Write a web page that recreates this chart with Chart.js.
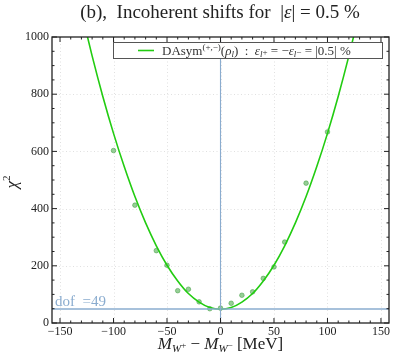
<!DOCTYPE html>
<html>
<head>
<meta charset="utf-8">
<script src="https://cdn.jsdelivr.net/npm/chart.js@4"></script>
<style>
  html, body { margin: 0; padding: 0; background: #fff; }
  canvas { display: block; }
</style>
</head>
<body>
<canvas id="chi2Chart" width="405" height="360"></canvas>
<script>
// ---- data ----
const shiftX   = [-100, -80, -60, -50, -40, -30, -20, -10, 0, 10, 20, 30, 40, 50, 60, 80, 100];
const chi2Vals = [603, 412, 253, 202, 113, 118, 74, 50, 52, 69, 97, 109, 156, 196, 283, 489, 668];

// fitted curve
const fitX = [-130, -120, -110, -100, -90, -80, -70, -60, -50, -40, -30, -20, -10, 0, 10, 20, 30, 40, 50, 60, 70, 80, 90, 100, 110, 120, 130];
const fitY = [1088, 934, 792, 663, 547, 442, 350, 270, 202, 147, 103, 73, 54, 48, 54, 73, 103, 147, 202, 270, 350, 442, 547, 663, 792, 934, 1088];

const dof = 49;
const xTicks = [-150, -100, -50, 0, 50, 100, 150];
const yTicks = [0, 200, 400, 600, 800, 1000];

const serif  = '"Liberation Serif", "DejaVu Serif", serif';
const green  = '#22cc11';
const dotGrn = 'rgba(80,175,80,0.6)';
const steel  = '#8aaccf';
const ink    = '#222';

function pairs(xs, ys) { return xs.map((x, i) => ({ x: x, y: ys[i] })); }
function fmt(v) { return v < 0 ? '\u2212' + Math.abs(v) : String(v); }

// draw a run of text pieces (sub/superscripts) left to right
function rich(ctx, x, y, segs, align) {
  let w = 0;
  segs.forEach(s => { ctx.font = s.f; w += ctx.measureText(s.t).width; });
  let cx = align === 'center' ? x - w / 2 : x;
  segs.forEach(s => {
    ctx.font = s.f;
    ctx.fillText(s.t, cx, y + (s.dy || 0));
    cx += ctx.measureText(s.t).width;
  });
  return w;
}

const decor = {
  id: 'decor',
  beforeDatasetsDraw(chart) {
    const { ctx, chartArea: a, scales: { x, y } } = chart;
    ctx.save();
    ctx.strokeStyle = '#d8d8d8';
    ctx.lineWidth = 0.8;
    ctx.setLineDash([1, 2.5]);
    xTicks.forEach(v => {
      const px = Math.round(x.getPixelForValue(v)) + 0.5;
      ctx.beginPath(); ctx.moveTo(px, a.top); ctx.lineTo(px, a.bottom); ctx.stroke();
    });
    yTicks.slice(1, -1).forEach(v => {
      const py = Math.round(y.getPixelForValue(v)) + 0.5;
      ctx.beginPath(); ctx.moveTo(a.left, py); ctx.lineTo(a.right, py); ctx.stroke();
    });
    ctx.restore();
  },
  afterDatasetsDraw(chart) {
    const { ctx, chartArea: a, scales: { x, y } } = chart;
    ctx.save();
    // frame
    ctx.strokeStyle = ink;
    ctx.lineWidth = 1.3;
    ctx.strokeRect(a.left, a.top, a.right - a.left, a.bottom - a.top);
    // inward ticks, all four sides
    ctx.lineWidth = 1;
    for (let v = -150; v <= 150; v += 10) {
      const px = x.getPixelForValue(v);
      const len = v % 50 === 0 ? 5 : 2.5;
      ctx.beginPath();
      ctx.moveTo(px, a.bottom); ctx.lineTo(px, a.bottom - len);
      ctx.moveTo(px, a.top); ctx.lineTo(px, a.top + len);
      ctx.stroke();
    }
    for (let v = 0; v <= 1000; v += 50) {
      const py = y.getPixelForValue(v);
      const len = v % 200 === 0 ? 5 : 2.5;
      ctx.beginPath();
      ctx.moveTo(a.left, py); ctx.lineTo(a.left + len, py);
      ctx.moveTo(a.right, py); ctx.lineTo(a.right - len, py);
      ctx.stroke();
    }
    // dof label
    ctx.fillStyle = steel;
    ctx.textBaseline = 'alphabetic';
    rich(ctx, a.left + 3, y.getPixelForValue(dof) - 3, [
      { t: 'dof  =49', f: '15px ' + serif }
    ]);
    // legend box
    const bx = 113, by = 42, bw = 269, bh = 16;
    ctx.fillStyle = '#fff';
    ctx.fillRect(bx, by, bw, bh);
    ctx.strokeStyle = '#555';
    ctx.lineWidth = 1;
    ctx.strokeRect(bx + 0.5, by + 0.5, bw, bh);
    ctx.strokeStyle = green;
    ctx.lineWidth = 1.6;
    ctx.beginPath(); ctx.moveTo(138, 50.5); ctx.lineTo(154, 50.5); ctx.stroke();
    ctx.fillStyle = '#333';
    const f = '13px ' + serif, fi = 'italic 13px ' + serif, fs = '9px ' + serif, fsi = 'italic 9px ' + serif;
    rich(ctx, 162, 55, [
      { t: 'DAsym', f: f },
      { t: '(+,\u2212)', f: fs, dy: -5 },
      { t: '(', f: f }, { t: '\u03c1', f: fi }, { t: 'l', f: fsi, dy: 2 }, { t: ')  :  ', f: f },
      { t: '\u03b5', f: fi }, { t: 'l', f: fsi, dy: 2 }, { t: '+', f: fs, dy: 0 },
      { t: ' = \u2212', f: f },
      { t: '\u03b5', f: fi }, { t: 'l', f: fsi, dy: 2 }, { t: '\u2212', f: fs, dy: 0 },
      { t: ' = |0.5| %', f: f }
    ]);
    ctx.restore();
  },
  afterDraw(chart) {
    const { ctx, chartArea: a } = chart;
    ctx.save();
    ctx.fillStyle = ink;
    ctx.textBaseline = 'alphabetic';
    // title
    rich(ctx, 220, 18, [
      { t: '(b),  Incoherent shifts for  |', f: '19px ' + serif },
      { t: '\u03b5', f: 'italic 19px ' + serif },
      { t: '| = 0.5 %', f: '19px ' + serif }
    ], 'center');
    // x axis title
    const F = '17px ' + serif, FI = 'italic 17px ' + serif, S = 'italic 11px ' + serif, S2 = '9px ' + serif;
    rich(ctx, (a.left + a.right) / 2, 349, [
      { t: 'M', f: FI }, { t: 'W', f: S, dy: 3 }, { t: '+', f: S2, dy: -1 },
      { t: ' \u2212 ', f: F },
      { t: 'M', f: FI }, { t: 'W', f: S, dy: 3 }, { t: '\u2212', f: S2, dy: -1 },
      { t: ' [MeV]', f: F }
    ], 'center');
    // y axis title
    ctx.translate(17, (a.top + a.bottom) / 2 + 2);
    ctx.rotate(-Math.PI / 2);
    rich(ctx, 0, 0, [
      { t: '\u03c7', f: 'italic 17px ' + serif },
      { t: '2', f: '11px ' + serif, dy: -7 }
    ], 'center');
    ctx.restore();
  }
};

new Chart(document.getElementById('chi2Chart'), {
  type: 'scatter',
  data: {
    datasets: [
      {
        label: 'dof',
        type: 'line',
        data: [{ x: -157.5, y: dof }, { x: 157.5, y: dof }],
        borderColor: steel, borderWidth: 1.5, pointRadius: 0
      },
      {
        label: 'zero',
        type: 'line',
        data: [{ x: 0, y: 0 }, { x: 0, y: 1000 }],
        borderColor: steel, borderWidth: 1.1, pointRadius: 0
      },
      {
        label: 'fit',
        type: 'line',
        data: pairs(fitX, fitY),
        borderColor: green, borderWidth: 1.6, pointRadius: 0,
        cubicInterpolationMode: 'monotone'
      },
      {
        label: 'points',
        data: pairs(shiftX, chi2Vals),
        backgroundColor: dotGrn, borderColor: 'rgba(70,160,70,0.7)',
        borderWidth: 0.8, pointRadius: 2.3
      }
    ]
  },
  options: {
    responsive: false,
    animation: false,
    devicePixelRatio: 1,
    layout: { padding: { top: 37, right: 16, left: 0, bottom: 0 } },
    plugins: { legend: { display: false }, tooltip: { enabled: false } },
    scales: {
      x: {
        type: 'linear', min: -157.5, max: 157.5,
        grid: { display: false, drawTicks: false },
        border: { display: false },
        afterBuildTicks: s => { s.ticks = xTicks.map(v => ({ value: v })); },
        afterFit: s => { s.height = 37; },
        ticks: {
          autoSkip: false, maxRotation: 0, padding: 2, color: ink,
          font: { family: serif, size: 12 },
          callback: v => fmt(v)
        }
      },
      y: {
        type: 'linear', min: 0, max: 1000,
        grid: { display: false, drawTicks: false },
        border: { display: false },
        afterBuildTicks: s => { s.ticks = yTicks.map(v => ({ value: v })); },
        afterFit: s => { s.width = 52; },
        ticks: {
          padding: 3, color: ink,
          font: { family: serif, size: 12 },
          callback: v => fmt(v)
        }
      }
    }
  },
  plugins: [decor]
});
</script>
</body>
</html>
